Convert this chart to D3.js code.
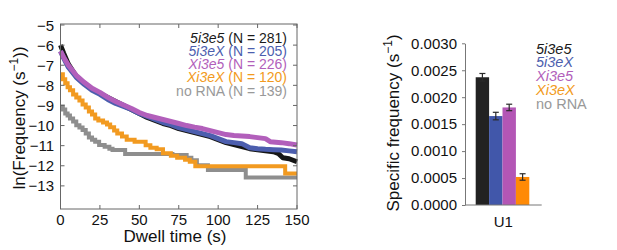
<!DOCTYPE html>
<html>
<head>
<meta charset="utf-8">
<script src="https://cdn.jsdelivr.net/npm/d3@7"></script>
<style>
    body { margin: 0; background: #fff; }
    svg { font-family: "Liberation Sans", Arial, sans-serif; }
</style>
</head>
<body>
<div id="chart"></div>
<script>
// series names / colours
const seriesNames = ["5i3e5", "5i3eX", "Xi3e5", "Xi3eX", "no RNA"];
const seriesN = [281, 205, 226, 120, 139];
const lineColors = ["#161616", "#4c5eae", "#b25fbb", "#f29a20", "#8e8e8e"];
const textColors = ["#1a1a1a", "#4c5eae", "#b25fbb", "#f29a20", "#999999"];
const barColors = ["#222222", "#4157aa", "#b356b5", "#ff8a05"];

// dwell time (s) / ln(frequency)
const black5i3e5 = [[0,-6.0],[2,-6.4],[5,-6.95],[10,-7.55],[15,-7.9],[20,-8.2],[25,-8.4],[30,-8.6],[35,-8.8],[40,-9.0],[45,-9.2],[50,-9.4],[55,-9.6],[60,-9.75],[65,-9.9],[70,-10.0],[75,-10.15],[80,-10.25],[85,-10.35],[90,-10.45],[95,-10.55],[100,-10.7],[105,-10.85],[110,-10.95],[115,-11.05],[120,-11.15],[125,-11.2],[130,-11.25],[135,-11.3],[138,-11.38],[141,-11.6],[145,-11.65],[150,-11.8]];
const blue5i3eX = [[0,-6.3],[2,-6.65],[5,-7.1],[10,-7.6],[15,-7.95],[20,-8.25],[25,-8.45],[30,-8.7],[35,-8.9],[40,-9.05],[45,-9.2],[50,-9.4],[55,-9.55],[60,-9.7],[65,-9.85],[70,-9.95],[75,-10.1],[80,-10.2],[85,-10.3],[90,-10.4],[95,-10.5],[100,-10.65],[105,-10.8],[110,-10.85],[115,-10.9],[120,-11.1],[125,-11.15],[130,-11.18],[135,-11.2],[140,-11.22],[145,-11.26],[150,-11.3]];
const purpleXi3e5 = [[0,-6.3],[2,-6.6],[5,-7.0],[10,-7.5],[15,-7.85],[20,-8.15],[25,-8.35],[30,-8.6],[35,-8.8],[40,-8.98],[45,-9.15],[50,-9.35],[55,-9.5],[60,-9.6],[65,-9.7],[70,-9.8],[75,-9.9],[80,-10.0],[85,-10.08],[90,-10.15],[95,-10.25],[100,-10.35],[105,-10.45],[110,-10.5],[115,-10.52],[120,-10.55],[125,-10.6],[130,-10.65],[133,-10.8],[140,-10.85],[145,-10.9],[150,-10.97]];
const orangeXi3eX = [[0,-7.45],[1.5,-7.7],[3,-7.9],[4.5,-8.1],[6,-8.25],[8,-8.45],[10,-8.6],[12,-8.75],[14,-8.95],[16,-9.1],[18,-9.3],[20,-9.45],[22,-9.65],[24,-9.75],[27,-9.85],[29.5,-9.95],[31.5,-10.08],[34,-10.25],[36,-10.4],[39,-10.55],[42,-10.7],[47,-10.8],[54,-10.98],[57,-11.1],[61,-11.18],[65,-11.38],[70,-11.5],[74,-11.6],[79,-11.7],[82,-11.8],[85.5,-12.02],[142.5,-12.38],[150,-12.38]];
const grayNoRNA = [[0,-9.05],[1.5,-9.2],[3,-9.4],[4.5,-9.5],[6,-9.65],[8,-9.8],[10,-9.98],[12,-10.1],[14,-10.22],[16,-10.4],[18,-10.6],[20,-10.7],[22,-10.8],[24.5,-10.97],[28,-11.05],[31,-11.15],[33,-11.22],[41,-11.42],[71,-11.47],[80,-11.6],[83,-11.72],[86.5,-11.97],[93.5,-12.21],[117.5,-12.58],[150,-12.58]];
const dwellSeries = [black5i3e5, blue5i3eX, purpleXi3e5, orangeXi3eX, grayNoRNA];

const xTicks = [0, 25, 50, 75, 100, 125, 150];
const yTicks = [-5, -6, -7, -8, -9, -10, -11, -12, -13];

// right panel: specific frequency (s^-1), group U1
const barGroup = "U1";
const barValues = [0.00237, 0.00165, 0.00181, 0.00052];
const barErrors = [0.00007, 0.00007, 0.00006, 0.00006];
const barTicks = [0, 0.0005, 0.001, 0.0015, 0.002, 0.0025, 0.003];

const svg = d3.select("#chart").append("svg")
    .attr("width", 617)
    .attr("height", 250);

class DwellVis {
    constructor(svg) {
        this.svg = svg;
        this.left = 60.5; this.right = 297;
        this.top = 24; this.bottom = 209;
        this.initScale();
        this.draw();
    }

    initScale() {
        let viz = this;
        viz.x = d3.scaleLinear().domain([0, 150]).range([viz.left, viz.right]);
        viz.y = d3.scaleLinear().domain([-14.15, -4.95]).range([viz.bottom, viz.top]);
    }

    draw() {
        let viz = this;
        const g = viz.svg.append("g");

        // lines: gray and orange first, then black, blue, purple on top
        const order = [4, 3, 0, 1, 2];
        order.forEach(i => {
            const step = i >= 3;
            const line = d3.line()
                .x(d => viz.x(d[0]))
                .y(d => viz.y(d[1]))
                .curve(step ? d3.curveStepAfter : d3.curveLinear);
            g.append("path")
                .datum(dwellSeries[i])
                .attr("d", line)
                .attr("fill", "none")
                .attr("stroke", lineColors[i])
                .attr("stroke-width", step ? 4 : 5)
                .attr("stroke-linejoin", step ? "miter" : "round");
        });

        // frame with inward ticks (matlab style)
        const frameColor = "#666";
        g.append("rect")
            .attr("x", viz.left).attr("y", viz.top)
            .attr("width", viz.right - viz.left).attr("height", viz.bottom - viz.top)
            .attr("fill", "none").attr("stroke", frameColor).attr("stroke-width", 1);

        const tl = 4;
        xTicks.forEach(t => {
            g.append("line").attr("x1", viz.x(t)).attr("x2", viz.x(t))
                .attr("y1", viz.bottom).attr("y2", viz.bottom - tl).attr("stroke", frameColor);
            g.append("line").attr("x1", viz.x(t)).attr("x2", viz.x(t))
                .attr("y1", viz.top).attr("y2", viz.top + tl).attr("stroke", frameColor);
            g.append("text").attr("x", viz.x(t)).attr("y", 225)
                .attr("text-anchor", "middle").attr("font-size", 15).attr("fill", "#111")
                .text(t);
        });
        yTicks.forEach(v => {
            g.append("line").attr("x1", viz.left).attr("x2", viz.left + tl)
                .attr("y1", viz.y(v)).attr("y2", viz.y(v)).attr("stroke", frameColor);
            g.append("line").attr("x1", viz.right).attr("x2", viz.right - tl)
                .attr("y1", viz.y(v)).attr("y2", viz.y(v)).attr("stroke", frameColor);
            g.append("text").attr("x", 54).attr("y", viz.y(v) + 5.5)
                .attr("text-anchor", "end").attr("font-size", 15).attr("fill", "#111")
                .text("\u2212" + Math.abs(v));
        });

        g.append("text").attr("x", 175).attr("y", 242)
            .attr("text-anchor", "middle").attr("font-size", 17).attr("fill", "#111")
            .text("Dwell time (s)");

        const yl = g.append("text")
            .attr("transform", "translate(25,118) rotate(-90)")
            .attr("text-anchor", "middle").attr("font-size", 17).attr("fill", "#111");
        yl.append("tspan").text("ln(Frequency (s");
        yl.append("tspan").attr("font-size", 12).attr("dy", -7).text("\u22121");
        yl.append("tspan").attr("dy", 7).text("))");

        // legend
        seriesNames.forEach((name, i) => {
            const t = g.append("text")
                .attr("x", 287).attr("y", 42.5 + i * 13.3)
                .attr("text-anchor", "end").attr("font-size", 14)
                .attr("fill", textColors[i]);
            t.append("tspan").attr("font-style", name === "no RNA" ? "normal" : "italic").text(name);
            t.append("tspan").text(" (N = " + seriesN[i] + ")");
        });
    }
}

class BarVis {
    constructor(svg) {
        this.svg = svg;
        this.initScale();
        this.draw();
    }

    initScale() {
        let viz = this;
        viz.y = d3.scaleLinear().domain([0, 0.003]).range([205, 43.3]);
        viz.xGroup = d3.scaleBand().domain([barGroup]).range([465, 541.5]).paddingInner(0).paddingOuter(0.14);
        viz.xBar = d3.scaleBand().domain(seriesNames.slice(0, 4)).range([475.7, 529.3]);
    }

    draw() {
        let viz = this;
        const g = viz.svg.append("g");
        const axisColor = "#777";

        g.selectAll("rect.bar")
            .data(barValues)
            .enter().append("rect")
            .attr("class", "bar")
            .attr("x", (d, i) => viz.xBar(seriesNames[i]))
            .attr("width", viz.xBar.bandwidth())
            .attr("y", d => viz.y(d))
            .attr("height", d => viz.y(0) - viz.y(d))
            .attr("fill", (d, i) => barColors[i]);

        // error bars
        barValues.forEach((v, i) => {
            const cx = viz.xBar(seriesNames[i]) + viz.xBar.bandwidth() / 2;
            const e = barErrors[i];
            g.append("line").attr("x1", cx).attr("x2", cx)
                .attr("y1", viz.y(v - e)).attr("y2", viz.y(v + e))
                .attr("stroke", "#2a2a2a").attr("stroke-width", 1.2);
            [v - e, v + e].forEach(w => {
                g.append("line").attr("x1", cx - 3).attr("x2", cx + 3)
                    .attr("y1", viz.y(w)).attr("y2", viz.y(w))
                    .attr("stroke", "#2a2a2a").attr("stroke-width", 1.2);
            });
        });

        const yAxis = g.append("g")
            .attr("transform", "translate(465,0)")
            .call(d3.axisLeft(viz.y).tickValues(barTicks).tickSize(3).tickPadding(5)
                .tickFormat(d3.format(".4f")).tickSizeOuter(0));
        yAxis.select(".domain").attr("stroke", axisColor);
        yAxis.selectAll(".tick line").attr("stroke", axisColor);
        yAxis.selectAll(".tick text").attr("font-size", 15).attr("fill", "#111")
            .attr("font-family", "Liberation Sans, Arial, sans-serif");

        g.append("line").attr("x1", 465).attr("x2", 541.7)
            .attr("y1", 205).attr("y2", 205).attr("stroke", axisColor);

        g.append("text")
            .attr("x", viz.xGroup(barGroup) + viz.xGroup.bandwidth() / 2).attr("y", 227)
            .attr("text-anchor", "middle").attr("font-size", 15).attr("fill", "#111")
            .text(barGroup);

        const yl = g.append("text")
            .attr("transform", "translate(399,123) rotate(-90)")
            .attr("text-anchor", "middle").attr("font-size", 17).attr("fill", "#111");
        yl.append("tspan").text("Specific frequency (s");
        yl.append("tspan").attr("font-size", 12).attr("dy", -7).text("\u22121");
        yl.append("tspan").attr("dy", 7).text(")");

        seriesNames.forEach((name, i) => {
            g.append("text")
                .attr("x", 536).attr("y", 53.5 + i * 13.75)
                .attr("font-size", 14.5)
                .attr("font-style", name === "no RNA" ? "normal" : "italic")
                .attr("fill", textColors[i])
                .text(name);
        });
    }
}

new DwellVis(svg);
new BarVis(svg);
</script>
</body>
</html>
